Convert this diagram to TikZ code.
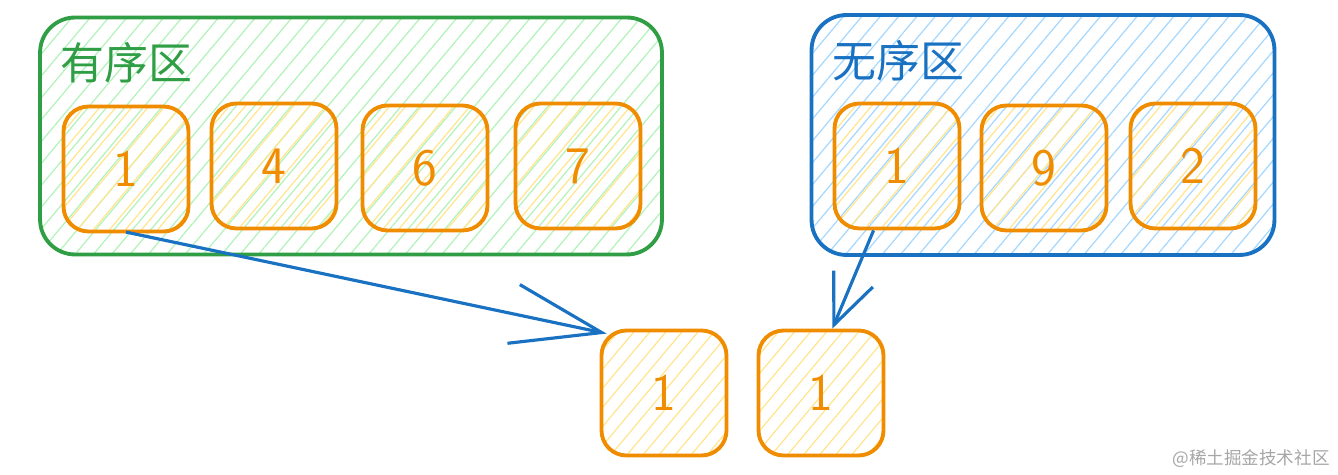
\documentclass[tikz,border=0pt]{standalone}
\usepackage{fontspec}
\newfontfamily\cjk{Noto Sans CJK SC}
\usetikzlibrary{patterns.meta, arrows.meta, positioning}

\definecolor{zonegreen}{HTML}{2F9E44}
\definecolor{hatchgreen}{HTML}{B2F2BB}
\definecolor{zoneblue}{HTML}{1971C2}
\definecolor{hatchblue}{HTML}{A5D8FF}
\definecolor{cellorange}{HTML}{F08C00}
\definecolor{hatchyellow}{HTML}{FFE58F}

\tikzset{
  zone/.style={draw, line width=2.2pt, rounded corners=0.7cm, inner sep=0pt},
  cell/.style={draw=cellorange, line width=2.2pt, rounded corners=0.5cm,
    minimum width=2.5cm, minimum height=2.5cm, inner sep=0pt,
    text=cellorange, font=\sffamily\fontsize{30}{36}\selectfont,
    pattern={Lines[angle=50, distance=7pt, line width=0.7pt]},
    pattern color=hatchyellow},
  zonelabel/.style={anchor=north west, inner sep=0pt, font=\cjk\fontsize{25}{30}\selectfont},
  move/.style={draw=zoneblue, line width=1.8pt}
}

\begin{document}
\begin{tikzpicture}[x=0.02cm, y=-0.02cm]
  \useasboundingbox (0,0) rectangle (1338,475);

  % Ordered region
  \node[zone, draw=zonegreen, minimum width=12.44cm, minimum height=4.74cm,
    pattern={Lines[angle=50, distance=8pt, line width=0.7pt]}, pattern color=hatchgreen]
    (sorted) at (351,136) {};
  \node[zonelabel, text=zonegreen] (sortedlabel) at (60,42) {有序区};
  \node[cell] (g1) at (126,169) {1};
  \node[cell] (g2) at (274,166) {4};
  \node[cell] (g3) at (425,168) {6};
  \node[cell] (g4) at (578,166) {7};

  % Unordered region
  \node[zone, draw=zoneblue, minimum width=9.26cm, minimum height=4.8cm,
    pattern={Lines[angle=50, distance=8pt, line width=0.7pt]}, pattern color=hatchblue]
    (unsorted) at (1043,135) {};
  \node[zonelabel, text=zoneblue] (unsortedlabel) at (832,40) {无序区};
  \node[cell] (u1) at (897,166) {1};
  \node[cell] (u2) at (1044,168) {9};
  \node[cell] (u3) at (1193,166) {2};

  % Elements being compared
  \node[cell] (b1) at (664,393) {1};
  \node[cell] (b2) at (821,393) {1};

  % Arrows
  \draw[move, -{Straight Barb[length=1.8cm, width=1.2cm, line width=1.8pt]}]
    (g1.south) -- ([shift={(7,5)}]b1.north west);
  \draw[move, -{Straight Barb[length=1cm, width=0.85cm, line width=1.8pt]}]
    (u1.250) -- (b2.80);

  % Watermark
  \node[anchor=south east, text=gray!70, inner sep=0pt, font=\cjk\fontsize{10}{12}\selectfont]
    (mark) at (1330,468) {@稀土掘金技术社区};
\end{tikzpicture}
\end{document}
